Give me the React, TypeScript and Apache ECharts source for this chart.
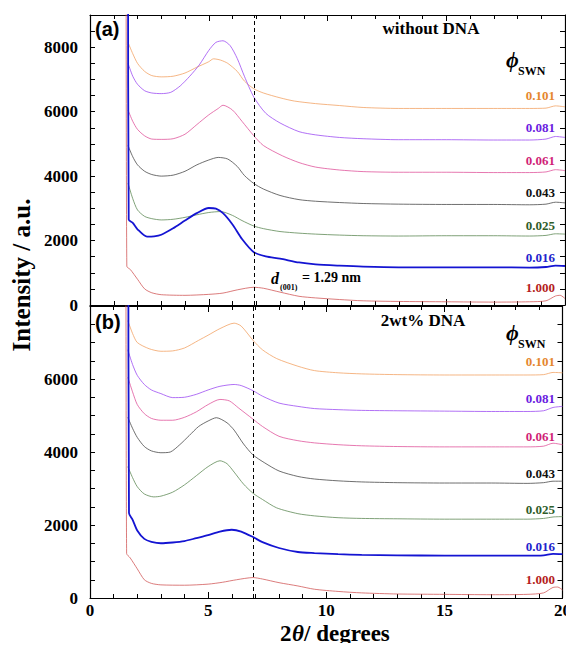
import React, { useEffect, useRef } from "react";
import * as echarts from "echarts";

// ---------- DATA ----------
const phiLabels = ["0.101", "0.081", "0.061", "0.043", "0.025", "0.016", "1.000"];
const dSpacingX = 6.92; // 2θ of d(001) = 1.29 nm (dashed line)

// Panel (a): without DNA
const a101: number[][] = [[1.6,8150],[1.8,7800],[2.0,7500],[2.3,7250],[2.6,7120],[3.0,7080],[3.5,7100],[4.0,7200],[4.5,7380],[5.0,7550],[5.2,7640],[5.5,7600],[5.8,7500],[6.2,7250],[6.5,6950],[6.9,6710],[7.3,6580],[8.0,6430],[8.6,6330],[9.5,6250],[10.5,6190],[11.5,6130],[13,6100],[15,6100],[17,6100],[18.5,6100],[19.2,6110],[19.6,6180],[20,6150]];
const a081: number[][] = [[1.6,7500],[1.8,7100],[2.0,6850],[2.3,6650],[2.6,6580],[3.0,6560],[3.4,6600],[3.8,6800],[4.2,7100],[4.6,7450],[5.0,7900],[5.3,8150],[5.6,8200],[5.9,8050],[6.2,7650],[6.5,7100],[6.9,6450],[7.4,5950],[8.0,5650],[8.8,5380],[9.5,5280],[10.5,5200],[11.5,5160],[13,5130],[15,5130],[17,5120],[18.5,5120],[19.2,5150],[19.6,5230],[20,5200]];
const a061: number[][] = [[1.6,6050],[1.8,5700],[2.0,5450],[2.3,5250],[2.6,5150],[3.0,5140],[3.5,5160],[4.0,5300],[4.5,5600],[5.0,5900],[5.4,6100],[5.6,6200],[6.0,6050],[6.4,5700],[6.9,5250],[7.3,4950],[8.1,4630],[8.8,4420],[9.5,4280],[10.5,4190],[11.5,4140],[13,4120],[15,4120],[17,4110],[18.5,4110],[19.2,4130],[19.6,4200],[20,4170]];
const a043: number[][] = [[1.6,4950],[1.8,4600],[2.0,4350],[2.3,4150],[2.6,4050],[3.0,4000],[3.5,4030],[4.0,4150],[4.5,4350],[5.0,4500],[5.4,4580],[5.8,4530],[6.2,4300],[6.5,4020],[6.9,3770],[7.3,3600],[8.0,3400],[8.8,3270],[9.5,3220],[10.5,3180],[11.5,3150],[13,3130],[15,3120],[17,3120],[18.5,3110],[19.2,3130],[19.6,3190],[20,3170]];
const a025: number[][] = [[1.6,3780],[1.8,3300],[2.0,2950],[2.3,2750],[2.6,2680],[3.0,2640],[3.5,2660],[4.0,2720],[4.5,2800],[5.0,2870],[5.5,2900],[6.0,2780],[6.4,2620],[6.9,2450],[7.3,2370],[8.0,2280],[8.8,2230],[9.5,2200],[10.5,2170],[11.5,2150],[13,2140],[15,2150],[17,2150],[18.5,2140],[19.2,2160],[19.6,2210],[20,2200]];
const a016: number[][] = [[1.6,12000],[1.63,2650],[1.8,2550],[2.0,2350],[2.4,2120],[2.7,2130],[3.0,2180],[3.5,2380],[4.0,2620],[4.5,2850],[5.0,3010],[5.3,2990],[5.6,2850],[6.0,2500],[6.4,2050],[6.9,1640],[7.4,1510],[8.0,1440],[8.8,1320],[9.5,1260],[10.5,1220],[11.5,1190],[13,1170],[15,1170],[17,1170],[18.5,1160],[19.2,1180],[19.6,1220],[20,1210]];
const a1000: number[][] = [[1.52,12000],[1.55,1200],[1.7,1100],[2.0,800],[2.3,500],[2.6,380],[3.0,320],[4.0,300],[5.0,330],[5.6,370],[6.2,470],[6.9,550],[7.3,520],[8.0,400],[8.8,270],[9.5,220],[10.5,170],[11.5,130],[13,110],[15,100],[17,90],[18.5,100],[19.2,130],[19.6,280],[19.8,300],[20,200]];

// Panel (b): 2wt% DNA
const b101: number[][] = [[1.6,7600],[1.8,7250],[2.0,7000],[2.5,6830],[3.0,6760],[3.5,6770],[4.0,6850],[4.6,7060],[5.0,7200],[5.5,7380],[6.1,7530],[6.4,7450],[6.9,7060],[7.3,6800],[7.9,6560],[8.8,6350],[9.5,6230],[10.5,6170],[11.5,6140],[13,6120],[15,6110],[17,6110],[18.5,6110],[19.2,6120],[19.6,6180],[20,6170]];
const b081: number[][] = [[1.6,6800],[1.8,6400],[2.0,6100],[2.3,5850],[2.6,5700],[3.0,5600],[3.5,5490],[4.0,5500],[4.5,5580],[5.0,5700],[5.5,5800],[6.1,5850],[6.4,5820],[6.9,5680],[7.3,5530],[8.0,5340],[8.8,5250],[9.5,5190],[10.5,5160],[11.5,5140],[13,5130],[15,5120],[17,5110],[18.5,5110],[19.2,5130],[19.6,5220],[20,5250]];
const b061: number[][] = [[1.6,6050],[1.8,5650],[2.0,5300],[2.3,5050],[2.6,4920],[3.0,4870],[3.5,4870],[4.0,4950],[4.5,5100],[5.0,5300],[5.5,5440],[5.9,5400],[6.3,5200],[6.9,4900],[7.3,4700],[8.0,4430],[8.8,4310],[9.5,4250],[10.5,4200],[11.5,4170],[13,4150],[15,4140],[17,4140],[18.5,4140],[19.2,4160],[19.6,4240],[20,4200]];
const b043: number[][] = [[1.6,4950],[1.8,4650],[2.0,4400],[2.3,4150],[2.6,4030],[3.0,3980],[3.4,4000],[3.8,4200],[4.2,4450],[4.6,4700],[5.0,4850],[5.35,4940],[5.8,4800],[6.1,4600],[6.5,4220],[6.9,3920],[7.4,3700],[8.0,3480],[8.8,3330],[9.5,3260],[10.5,3210],[11.5,3180],[13,3160],[15,3150],[17,3150],[18.5,3140],[19.2,3160],[19.6,3200],[20,3200]];
const b025: number[][] = [[1.6,3600],[1.8,3300],[2.0,3050],[2.3,2850],[2.7,2770],[3.0,2790],[3.5,2900],[4.0,3100],[4.5,3350],[5.0,3600],[5.5,3760],[5.8,3680],[6.1,3450],[6.5,3120],[6.9,2870],[7.3,2700],[7.9,2470],[8.8,2310],[9.5,2250],[10.5,2200],[11.5,2180],[13,2170],[15,2160],[17,2160],[18.5,2160],[19.2,2180],[19.6,2220],[20,2230]];
const b016: number[][] = [[1.62,12000],[1.65,2330],[1.8,2150],[2.0,1850],[2.3,1620],[2.6,1540],[3.0,1500],[3.5,1520],[4.0,1560],[4.5,1640],[5.0,1720],[5.5,1820],[6.0,1870],[6.4,1820],[6.9,1670],[7.3,1530],[8.0,1370],[8.8,1260],[9.5,1230],[10.5,1200],[11.5,1180],[13,1170],[15,1160],[17,1160],[18.5,1160],[19.2,1170],[19.6,1210],[20,1200]];
const b1000: number[][] = [[1.52,12000],[1.55,1220],[1.7,1100],[2.0,800],[2.3,500],[2.6,400],[3.0,360],[4.0,350],[5.0,380],[5.6,430],[6.2,500],[6.9,560],[7.3,520],[8.0,420],[8.8,330],[9.5,240],[10.5,180],[11.5,140],[13,110],[15,100],[17,90],[18.5,100],[19.2,140],[19.6,290],[19.8,300],[20,220]];

const panelA = [a101, a081, a061, a043, a025, a016, a1000];
const panelB = [b101, b081, b061, b043, b025, b016, b1000];

const lineColors = ["#F2A366", "#9D4DF2", "#E0559C", "#4A4A4A", "#5F8A57", "#1414D2", "#D25A5A"];
const labelColors = ["#E5862E", "#6A20E0", "#D01F78", "#111111", "#2F5C29", "#2323CC", "#B41C1C"];
const lineWidths = [0.8, 0.8, 0.8, 0.8, 0.8, 1.8, 0.8];

// label y-positions (px) next to right edge
const labelYA = [95, 127.5, 160, 192, 225, 257.5, 287];
const labelYB = [361, 398, 436, 473, 509, 546, 579];

const SERIF = "Liberation Serif";
const SANS = "Liberation Sans";

export default function App() {
  const ref = useRef<HTMLDivElement>(null);

  useEffect(() => {
    if (!ref.current) return;
    const chart = echarts.init(ref.current, undefined, { renderer: "svg" });

    const gridA = { left: 90, top: 15, width: 475, height: 290 };
    const gridB = { left: 90, top: 306, width: 475, height: 292 };

    const axisLine = { show: true, onZero: false, lineStyle: { color: "#000", width: 1.2 } };
    const mkX = (gridIndex: number, position: string, showLabel: boolean) => ({
      type: "value",
      gridIndex,
      position,
      min: 0,
      max: 20,
      interval: 5,
      axisLine,
      axisTick: { show: true, inside: true, length: 6, lineStyle: { color: "#000", width: 1 } },
      minorTick: { show: true, splitNumber: 5, length: 4, lineStyle: { color: "#000", width: 1 } },
      splitLine: { show: false },
      minorSplitLine: { show: false },
      axisLabel: {
        show: showLabel,
        margin: 4,
        color: "#000",
        fontFamily: SERIF,
        fontWeight: "bold",
        fontSize: 17,
      },
    });
    const mkY = (gridIndex: number, position: string, max: number, showLabel: boolean) => ({
      type: "value",
      gridIndex,
      position,
      min: 0,
      max,
      interval: 500,
      axisLine,
      axisTick: { show: true, inside: true, length: 5, lineStyle: { color: "#000", width: 1 } },
      splitLine: { show: false },
      axisLabel: {
        show: showLabel,
        margin: 12,
        color: "#000",
        fontFamily: SERIF,
        fontWeight: "bold",
        fontSize: 17,
        formatter: (v: number) => (v % 2000 === 0 && v < 8000.5 && !(max === 8000 && v === 8000) ? String(v) : ""),
      },
    });

    const mkSeries = (data: number[][][], xIdx: number, yIdx: number) =>
      data.map((d, i) => ({
        type: "line",
        xAxisIndex: xIdx,
        yAxisIndex: yIdx,
        data: d,
        showSymbol: false,
        symbol: "none",
        smooth: 0.25,
        clip: true,
        z: i === 5 ? 4 : 3,
        lineStyle: { color: lineColors[i], width: lineWidths[i] },
        ...(i === 6
          ? {
              markLine: {
                silent: true,
                symbol: "none",
                label: { show: false },
                lineStyle: { color: "#000", type: [4, 3], width: 1 },
                data: [{ xAxis: dSpacingX }],
              },
            }
          : {}),
      }));

    const labelTexts = (ys: number[]) =>
      phiLabels.map((t, i) => ({
        type: "text",
        x: 555,
        y: ys[i],
        style: {
          text: t,
          fill: labelColors[i],
          font: `bold 13px ${SERIF}`,
          textAlign: "right",
          textVerticalAlign: "middle",
        },
      }));

    const phiGroup = (yPhi: number, ySub: number) => [
      {
        type: "text",
        x: 506,
        y: yPhi,
        style: { text: "ϕ", fill: "#000", font: `italic bold 22px ${SERIF}`, textAlign: "left", textVerticalAlign: "middle" },
      },
      {
        type: "text",
        x: 518,
        y: ySub,
        style: { text: "SWN", fill: "#000", font: `bold 12px ${SERIF}`, textAlign: "left", textVerticalAlign: "middle" },
      },
    ];

    const option: any = {
      animation: false,
      backgroundColor: "#fff",
      grid: [gridA, gridB],
      xAxis: [mkX(0, "bottom", false), mkX(0, "top", false), mkX(1, "bottom", true), mkX(1, "top", false)],
      yAxis: [mkY(0, "left", 9000, true), mkY(0, "right", 9000, false), mkY(1, "left", 8000, true), mkY(1, "right", 8000, false)],
      series: [...mkSeries(panelA, 0, 0), ...mkSeries(panelB, 2, 2)],
      graphic: [
        { type: "text", x: 95, y: 29, style: { text: "(a)", fill: "#000", font: `bold 20px ${SANS}`, textAlign: "left", textVerticalAlign: "middle" } },
        { type: "text", x: 95, y: 322, style: { text: "(b)", fill: "#000", font: `bold 20px ${SANS}`, textAlign: "left", textVerticalAlign: "middle" } },
        { type: "text", x: 431, y: 28, style: { text: "without DNA", fill: "#000", font: `bold 17px ${SERIF}`, textAlign: "center", textVerticalAlign: "middle" } },
        { type: "text", x: 423, y: 320, style: { text: "2wt% DNA", fill: "#000", font: `bold 17px ${SERIF}`, textAlign: "center", textVerticalAlign: "middle" } },
        ...phiGroup(59, 71),
        ...phiGroup(332, 344),
        ...labelTexts(labelYA),
        ...labelTexts(labelYB),
        { type: "text", x: 271, y: 278, style: { text: "d", fill: "#000", font: `italic bold 16px ${SERIF}`, textAlign: "left", textVerticalAlign: "middle" } },
        { type: "text", x: 280, y: 287, style: { text: "(001)", fill: "#000", font: `bold 8px ${SERIF}`, textAlign: "left", textVerticalAlign: "middle" } },
        { type: "text", x: 302, y: 277, style: { text: "= 1.29 nm", fill: "#000", font: `bold 14px ${SERIF}`, textAlign: "left", textVerticalAlign: "middle" } },
        {
          type: "text",
          x: 21,
          y: 275,
          rotation: Math.PI / 2,
          style: { text: "Intensity / a.u.", fill: "#000", font: `bold 25px ${SERIF}`, textAlign: "center", textVerticalAlign: "middle" },
        },
        {
          type: "group",
          x: 338,
          y: 633,
          children: [
            { type: "text", x: -58, y: 0, style: { text: "2", fill: "#000", font: `bold 23px ${SERIF}`, textAlign: "left", textVerticalAlign: "middle" } },
            { type: "text", x: -46, y: 0, style: { text: "θ", fill: "#000", font: `italic bold 23px ${SERIF}`, textAlign: "left", textVerticalAlign: "middle" } },
            { type: "text", x: -34, y: 0, style: { text: "/ degrees", fill: "#000", font: `bold 23px ${SERIF}`, textAlign: "left", textVerticalAlign: "middle" } },
          ],
        },
      ],
    };

    chart.setOption(option);
    return () => chart.dispose();
  }, []);

  return <div ref={ref} style={{ width: 574, height: 651, margin: -8 }} />;
}
